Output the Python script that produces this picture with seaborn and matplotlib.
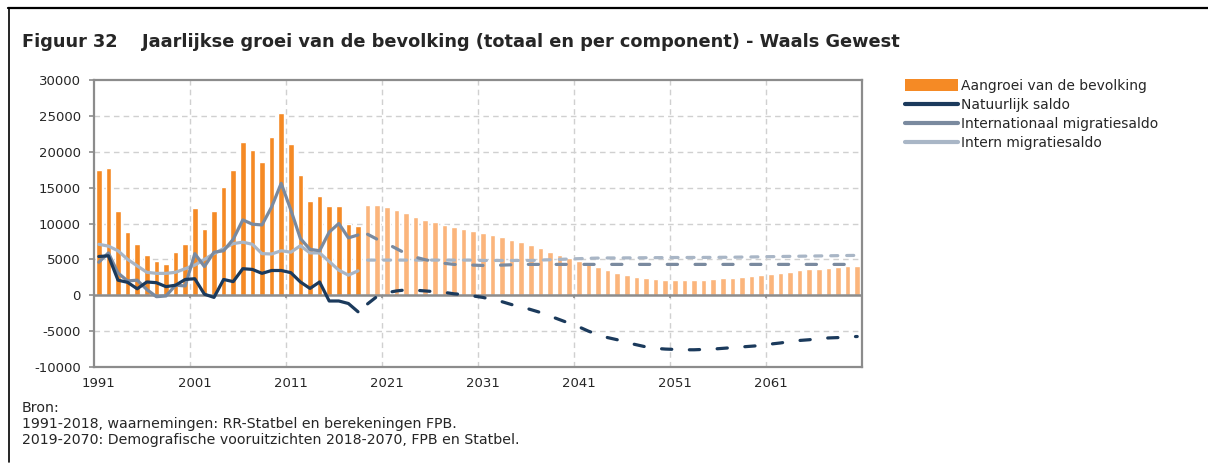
import numpy as np
import pandas as pd
import matplotlib
matplotlib.use("Agg")
import matplotlib.pyplot as plt
from matplotlib import font_manager as fm
from matplotlib.lines import Line2D
from matplotlib.patches import Patch
import seaborn as sns

# ---------------- data ----------------
obs_years = list(range(1991, 2019))
proj_years = list(range(2019, 2071))

growth_obs = [17400, 17700, 11800, 8800, 7100, 5600, 4800, 4400, 6000, 7100,
              12200, 9200, 11800, 15100, 17400, 21300, 20200, 18600, 22100, 25400,
              21100, 16800, 13200, 13800, 12500, 12500, 9900, 9600]
growth_proj = [12540, 12540, 12310, 11940, 11480, 10880, 10510, 10140, 9810, 9540,
               9260, 8890, 8610, 8380, 8060, 7730, 7410, 6940, 6530, 6060,
               5600, 5230, 4770, 4310, 3870, 3520, 3150, 2820, 2550, 2410,
               2270, 2180, 2130, 2080, 2130, 2180, 2270, 2360, 2450, 2590,
               2690, 2820, 3010, 3150, 3290, 3470, 3610, 3700, 3800, 3980,
               4030, 4120]

natural_obs = [5400, 5500, 2100, 1800, 900, 1850, 1750, 1200, 1400, 2200,
               2300, 150, -300, 2200, 1900, 3700, 3600, 3050, 3450, 3450,
               3150, 1850, 950, 1850, -800, -800, -1150, -2300]
natural_proj = [-1200, -150, 350, 600, 750, 700, 600, 500, 400, 200,
                100, -100, -300, -600, -900, -1300, -1600, -2000, -2400, -2900,
                -3400, -3900, -4400, -5000, -5500, -5900, -6200, -6600, -6900, -7200,
                -7400, -7500, -7550, -7600, -7600, -7550, -7500, -7400, -7300, -7200,
                -7100, -7000, -6800, -6650, -6450, -6300, -6200, -6050, -5950, -5900,
                -5800, -5750]

intl_obs = [4600, 5900, 3100, 2000, 2100, 800, -200, -100, 1400, 1300,
            5800, 4000, 6000, 6200, 7800, 10500, 9900, 9800, 12300, 15600,
            11900, 7900, 6400, 6200, 8800, 10000, 8000, 8400]
intl_proj = [8500, 7800, 7200, 6500, 5800, 5300, 4950, 4700, 4450, 4300,
             4250, 4200, 4150, 4150, 4200, 4250, 4300, 4300, 4300, 4300,
             4300, 4300, 4300, 4300, 4300, 4300, 4300, 4300, 4300, 4300,
             4300, 4300, 4300, 4300, 4300, 4300, 4300, 4300, 4300, 4300,
             4300, 4300, 4300, 4300, 4300, 4300, 4300, 4300, 4300, 4300,
             4300, 4300]

intern_obs = [7100, 6850, 6200, 5000, 4100, 3200, 3050, 3050, 3200, 3700,
              4200, 5000, 5800, 6500, 7200, 7400, 7100, 5800, 5750, 6200,
              6000, 6900, 5900, 5900, 4700, 3500, 2800, 3400]
intern_proj = [4900, 4900, 4900, 4900, 4900, 4900, 4900, 4900, 4900, 4900,
               4900, 4900, 4850, 4850, 4850, 4850, 4850, 4850, 4900, 4950,
               5000, 5050, 5100, 5150, 5180, 5200, 5200, 5210, 5220, 5230,
               5240, 5250, 5260, 5260, 5270, 5270, 5280, 5290, 5300, 5320,
               5340, 5360, 5380, 5400, 5420, 5440, 5460, 5480, 5500, 5520,
               5540, 5560]

tick_years = [1991, 2001, 2011, 2021, 2031, 2041, 2051, 2061]
y_ticks = [-10000, -5000, 0, 5000, 10000, 15000, 20000, 25000, 30000]

legend_labels = ["Aangroei van de bevolking", "Natuurlijk saldo",
                 "Internationaal migratiesaldo", "Intern migratiesaldo"]
title = "Figuur 32    Jaarlijkse groei van de bevolking (totaal en per component) - Waals Gewest"
source_lines = ["Bron:",
                "1991-2018, waarnemingen: RR-Statbel en berekeningen FPB.",
                "2019-2070: Demografische vooruitzichten 2018-2070, FPB en Statbel."]

# ---------------- style ----------------
C_BAR = "#F58A25"
C_BAR_P = "#FBB57C"
C_NAT = "#1B3A5C"
C_INT = "#7A8A9F"
C_INR = "#A9B6C6"
C_AXIS = "#8C8C8C"
C_TEXT = "#262626"

sns.set_theme(style="white")
avail = {f.name for f in fm.fontManager.ttflist}
fam = [f for f in ["DejaVu Sans Condensed", "Liberation Sans Narrow", "DejaVu Sans"] if f in avail]
plt.rcParams["font.family"] = fam

W, H = 1208, 467
fig = plt.figure(figsize=(W / 100, H / 100), dpi=100)
ax = fig.add_axes([94 / W, 1 - 367 / H, (862 - 94) / W, (367 - 80) / H])

df_bars = pd.DataFrame({
    "year": obs_years + proj_years,
    "value": growth_obs + growth_proj,
    "phase": ["obs"] * len(obs_years) + ["proj"] * len(proj_years),
})
sns.barplot(data=df_bars, x="year", y="value", hue="phase",
            palette={"obs": C_BAR, "proj": C_BAR_P}, native_scale=True,
            dodge=False, width=0.62, saturation=1, legend=False, ax=ax, zorder=2)
# make bar width exact (0.6 of a year slot)
for p in ax.patches:
    cx = p.get_x() + p.get_width() / 2
    p.set_width(0.6)
    p.set_x(cx - 0.3)

lw = 2.3
sns.lineplot(x=obs_years, y=intern_obs, color=C_INR, lw=lw, ax=ax, zorder=3,
             solid_capstyle="round", solid_joinstyle="round")
sns.lineplot(x=obs_years, y=intl_obs, color=C_INT, lw=lw, ax=ax, zorder=4,
             solid_capstyle="round", solid_joinstyle="round")
sns.lineplot(x=obs_years, y=natural_obs, color=C_NAT, lw=lw, ax=ax, zorder=5,
             solid_capstyle="round", solid_joinstyle="round")

sns.lineplot(x=proj_years, y=intern_proj, color=C_INR, lw=lw, ax=ax, zorder=3,
             linestyle=(0, (2.2, 2.8)), dash_capstyle="round")
sns.lineplot(x=proj_years, y=intl_proj, color=C_INT, lw=lw, ax=ax, zorder=4,
             linestyle=(0, (3.2, 5.5)), dash_capstyle="round")
sns.lineplot(x=proj_years, y=natural_proj, color=C_NAT, lw=lw, ax=ax, zorder=5,
             linestyle=(0, (3.2, 5.5)), dash_capstyle="round")

# axes
ax.set_xlim(1990.5, 2070.5)
ax.set_ylim(-10000, 30000)
ax.set_yticks(y_ticks)
ax.set_yticklabels([str(v) for v in y_ticks])
ax.set_xticks(tick_years)
ax.set_xticklabels([str(v) for v in tick_years])
ax.set_xlabel("")
ax.set_ylabel("")
ax.tick_params(axis="y", length=3.5, width=1.2, color=C_AXIS, pad=6,
               labelsize=9.5, labelcolor=C_TEXT, left=True)
ax.tick_params(axis="x", length=0, pad=7, labelsize=9.5, labelcolor=C_TEXT)

for b in [y for y in range(1991, 2071, 10)][1:]:
    ax.axvline(b - 0.5, color="#D0D0D0", lw=1, linestyle=(0, (4, 3)), zorder=0.5)
for v in y_ticks[1:-1]:
    if v != 0:
        ax.axhline(v, color="#D0D0D0", lw=1, linestyle=(0, (4, 3)), zorder=0.5)
ax.axhline(0, color=C_AXIS, lw=1.8, zorder=2.5)
ax.vlines([y - 0.5 for y in range(2001, 2071, 10)], -450, 0, color=C_AXIS, lw=1.2, zorder=2.5)

for s in ax.spines.values():
    s.set_color(C_AXIS)
    s.set_linewidth(1.6)
    s.set_visible(True)

# legend
handles = [Patch(facecolor=C_BAR, edgecolor="none"),
           Line2D([], [], color=C_NAT, lw=3),
           Line2D([], [], color=C_INT, lw=3),
           Line2D([], [], color=C_INR, lw=3)]
fig.legend(handles, legend_labels, loc="upper left",
           bbox_to_anchor=(905 / W, 1 - 79 / H), frameon=False,
           fontsize=10, handlelength=3.85, handleheight=0.95, handletextpad=0.2,
           labelspacing=0.36, borderpad=0, borderaxespad=0, labelcolor=C_TEXT)

# texts
fig.text(22 / W, 1 - 42 / H, title, fontsize=12.8, fontweight="bold",
         color=C_TEXT, va="center", ha="left")
for i, line in enumerate(source_lines):
    fig.text(22 / W, 1 - (408 + 16 * i) / H, line, fontsize=10.2,
             color=C_TEXT, va="center", ha="left")

# frame
fig.add_artist(Line2D([8 / W, 1], [1 - 8 / H, 1 - 8 / H], color="black", lw=1.6,
                      transform=fig.transFigure))
fig.add_artist(Line2D([9 / W, 9 / W], [1 - 8 / H, 1 - 462 / H], color="black", lw=1.2,
                      transform=fig.transFigure))

fig.savefig("out.png", dpi=100)
